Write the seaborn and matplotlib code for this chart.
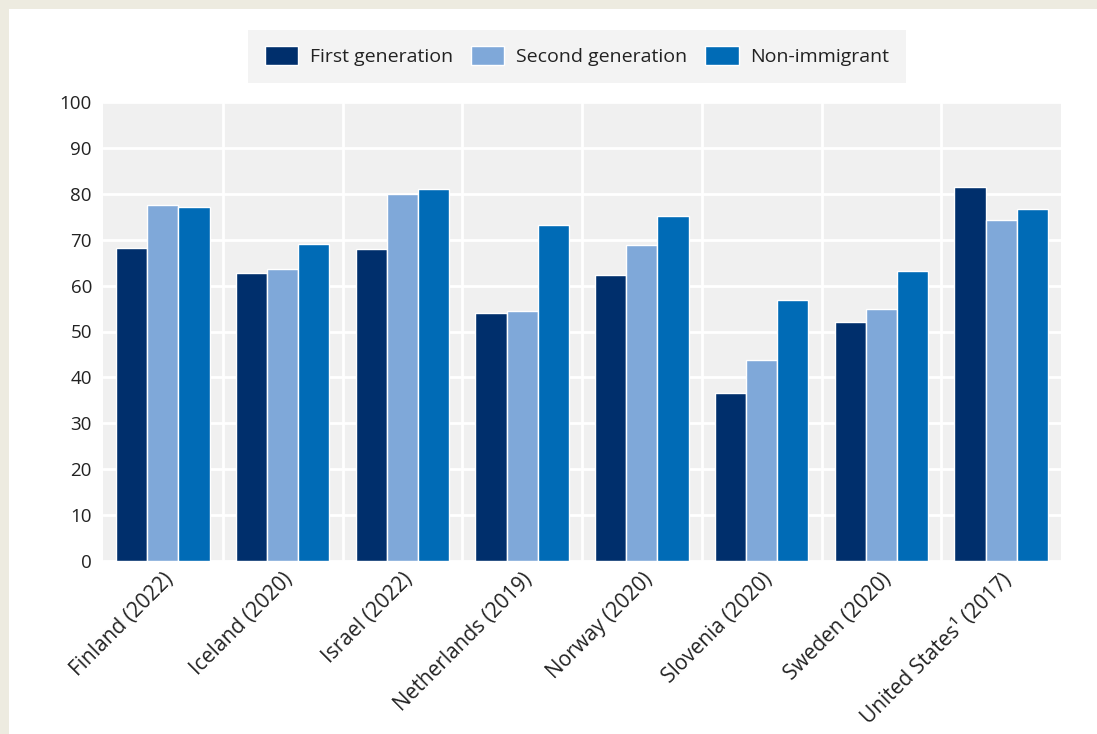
import matplotlib
matplotlib.use("Agg")
import matplotlib.pyplot as plt
import seaborn as sns
import pandas as pd
from matplotlib.patches import Rectangle

countries = ["Finland (2022)", "Iceland (2020)", "Israel (2022)", "Netherlands (2019)",
             "Norway (2020)", "Slovenia (2020)", "Sweden (2020)", "United States¹ (2017)"]
series = ["First generation", "Second generation", "Non-immigrant"]
first_gen = [68.3, 62.8, 68.0, 54.1, 62.4, 36.6, 52.1, 81.4]
second_gen = [77.5, 63.6, 79.9, 54.5, 68.8, 43.8, 54.9, 74.3]
non_immigrant = [77.1, 69.1, 81.0, 73.1, 75.1, 56.8, 63.2, 76.7]
colors = ["#002F6C", "#7FA8D9", "#006BB6"]
yticks = [0, 10, 20, 30, 40, 50, 60, 70, 80, 90, 100]

rows = []
for name, vals in zip(series, [first_gen, second_gen, non_immigrant]):
    for c, v in zip(countries, vals):
        rows.append({"country": c, "series": name, "value": v})
df = pd.DataFrame(rows)

sns.set_theme(style="white")
plt.rcParams['font.family'] = ['Open Sans', 'DejaVu Sans']

fig = plt.figure(figsize=(10.97, 7.34), dpi=100)
fig.patch.set_facecolor("#EDEBE0")
fig.patches.append(Rectangle((9 / 1097, 0), 1, 1 - 9 / 734, transform=fig.transFigure,
                             facecolor="white", edgecolor="none", zorder=-10))
ax = fig.add_axes([103 / 1097, 1 - 561 / 734, (1061 - 103) / 1097, (561 - 102) / 734])
ax.set_facecolor("#F0F0F0")

sns.barplot(data=df, x="country", y="value", hue="series", palette=colors, saturation=1,
            width=0.78, edgecolor="white", linewidth=1, ax=ax, legend=True)

ax.set_ylim(0, 100)
ax.set_xlim(-0.5, len(countries) - 0.5)
ax.set_yticks(yticks)
ax.set_yticklabels([str(t) for t in yticks], fontsize=13.5, color="#222222")
ax.set_axisbelow(True)
ax.yaxis.grid(True, color="white", linewidth=2)
for i in range(1, len(countries)):
    ax.axvline(i - 0.5, color="white", linewidth=2, zorder=0.5)
for s in ax.spines.values():
    s.set_visible(False)
ax.tick_params(axis="both", length=0, pad=8)
ax.set_xlabel("")
ax.set_ylabel("")
ax.set_xticks(range(len(countries)))
ax.set_xticklabels(countries, rotation=45, ha="right", rotation_mode="anchor",
                   fontsize=15, color="#222222")
ax.tick_params(axis="x", pad=6)

handles, labels = ax.get_legend_handles_labels()
ax.legend_.remove()
leg = fig.legend(handles, labels, loc="center", bbox_to_anchor=(577 / 1097, 1 - 56 / 734),
                 ncol=3, frameon=True, fancybox=False, fontsize=14, handlelength=1.7,
                 handleheight=1.1, columnspacing=0.95, handletextpad=0.6,
                 borderpad=0.85, labelcolor="#222222")
leg.get_frame().set_facecolor("#F0F0F0")
leg.get_frame().set_edgecolor("none")

fig.savefig("out.png", dpi=100, facecolor=fig.get_facecolor())
